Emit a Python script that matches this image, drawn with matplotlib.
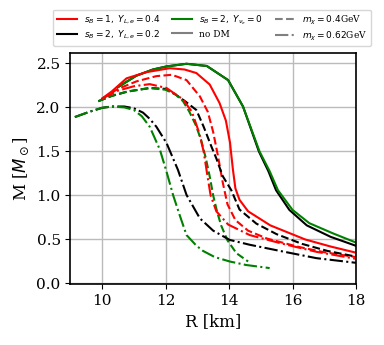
import matplotlib

matplotlib.use("Agg")
import matplotlib.pyplot as plt
from matplotlib.lines import Line2D

plt.rcParams["font.family"] = "serif"
plt.rcParams["font.serif"] = ["DejaVu Serif"]

# mass-radius curves (R in km, M in M_sun)
# no DM
r_red_nodm = [10.0, 10.3, 10.77, 11.4, 12.13, 12.6, 12.97, 13.39, 13.7, 13.9, 14.03, 14.12, 14.2, 14.33, 14.6, 15.3, 16.4, 17.2, 18.0]
m_red_nodm = [2.10, 2.18, 2.33, 2.40, 2.445, 2.43, 2.39, 2.26, 2.05, 1.85, 1.60, 1.30, 1.08, 0.95, 0.82, 0.66, 0.50, 0.42, 0.35]
r_black_nodm = [10.5, 11.08, 11.6, 12.03, 12.66, 13.3, 13.97, 14.44, 14.94, 15.24, 15.48, 15.9, 16.45, 17.2, 18.0]
m_black_nodm = [2.23, 2.36, 2.43, 2.465, 2.495, 2.47, 2.31, 2.01, 1.50, 1.275, 1.06, 0.836, 0.66, 0.53, 0.428]
r_green_nodm = [10.5, 11.08, 11.6, 12.03, 12.66, 13.3, 13.97, 14.44, 14.96, 15.28, 15.54, 16.0, 16.53, 17.27, 18.0]
m_green_nodm = [2.23, 2.36, 2.43, 2.465, 2.495, 2.47, 2.31, 2.01, 1.50, 1.275, 1.06, 0.836, 0.685, 0.57, 0.465]

# m_chi = 0.4 GeV
r_red_04 = [10.0, 10.5, 11.08, 11.71, 12.2, 12.66, 13.08, 13.33, 13.5, 13.65, 13.8, 13.95, 14.2, 14.6, 15.2, 16.2, 17.0, 18.0]
m_red_04 = [2.10, 2.21, 2.295, 2.355, 2.37, 2.31, 2.125, 1.95, 1.72, 1.45, 1.15, 0.90, 0.72, 0.60, 0.51, 0.415, 0.355, 0.30]
r_black_04 = [9.88, 10.3, 10.8, 11.5, 12.0, 12.34, 12.65, 12.97, 13.2, 13.45, 13.6, 13.8, 14.07, 14.33, 14.86, 15.5, 16.3, 17.1, 18.0]
m_black_04 = [2.07, 2.13, 2.18, 2.22, 2.21, 2.14, 2.06, 1.97, 1.78, 1.55, 1.42, 1.22, 1.06, 0.84, 0.68, 0.56, 0.45, 0.37, 0.305]
r_green_04 = [9.88, 10.3, 10.8, 11.5, 12.0, 12.3, 12.55, 12.75, 12.95, 13.12, 13.27, 13.4, 13.5, 13.62, 13.75, 13.95, 14.23, 14.6]
m_green_04 = [2.07, 2.13, 2.18, 2.22, 2.20, 2.15, 2.07, 1.95, 1.80, 1.63, 1.42, 1.20, 1.0, 0.82, 0.66, 0.49, 0.345, 0.25]

# m_chi = 0.62 GeV
r_red_062 = [10.0, 10.5, 11.0, 11.5, 12.03, 12.55, 12.83, 13.05, 13.2, 13.32, 13.42, 13.6, 13.97, 14.65, 15.7, 16.75, 18.0]
m_red_062 = [2.10, 2.19, 2.24, 2.264, 2.22, 2.09, 1.95, 1.72, 1.50, 1.22, 1.0, 0.82, 0.67, 0.55, 0.45, 0.36, 0.28]
r_black_062 = [9.14, 9.6, 10.0, 10.3, 10.7, 11.0, 11.29, 11.5, 11.71, 12.03, 12.39, 12.66, 13.08, 13.5, 14.02, 14.65, 15.7, 16.75, 18.0]
m_black_062 = [1.89, 1.95, 1.995, 2.01, 2.01, 1.99, 1.94, 1.87, 1.78, 1.595, 1.29, 1.006, 0.74, 0.60, 0.495, 0.44, 0.363, 0.288, 0.235]
r_green_062 = [9.14, 9.6, 10.0, 10.3, 10.7, 11.0, 11.25, 11.5, 11.82, 12.03, 12.24, 12.45, 12.66, 12.97, 13.18, 13.55, 14.02, 14.54, 15.28]
m_green_062 = [1.89, 1.95, 1.995, 2.01, 2.0, 1.97, 1.90, 1.78, 1.52, 1.27, 1.0, 0.77, 0.55, 0.43, 0.37, 0.30, 0.25, 0.21, 0.175]

x_ticks = [10, 12, 14, 16, 18]
y_ticks = [0.0, 0.5, 1.0, 1.5, 2.0, 2.5]

fig = plt.figure(figsize=(3.84, 3.45), dpi=100)
ax = fig.add_axes([0.1833, 0.177, 0.7437, 0.670])

lw = 1.5
ax.plot(r_black_nodm, m_black_nodm, color="black", lw=lw, ls="-")
ax.plot(r_green_nodm, m_green_nodm, color="green", lw=lw, ls="-")
ax.plot(r_red_nodm, m_red_nodm, color="red", lw=lw, ls="-")
ax.plot(r_red_04, m_red_04, color="red", lw=lw, ls="--")
ax.plot(r_black_04, m_black_04, color="black", lw=lw, ls="--")
ax.plot(r_green_04, m_green_04, color="green", lw=lw, ls="--")
ax.plot(r_red_062, m_red_062, color="red", lw=lw, ls="-.")
ax.plot(r_black_062, m_black_062, color="black", lw=lw, ls="-.")
ax.plot(r_green_062, m_green_062, color="green", lw=lw, ls="-.")

ax.set_xlim(9, 18)
ax.set_ylim(-0.005, 2.62)
ax.set_xticks(x_ticks)
ax.set_yticks(y_ticks)
ax.grid(True, color="#bbbbbb", lw=1.0)
ax.set_axisbelow(True)
ax.tick_params(labelsize=11)
for s in ax.spines.values():
    s.set_linewidth(1.2)
ax.set_xlabel("R [km]", fontsize=12)
ax.set_ylabel(r"M [$M_\odot$]", fontsize=12)

handles = [
    Line2D([], [], color="red", lw=lw),
    Line2D([], [], color="black", lw=lw),
    Line2D([], [], color="green", lw=lw),
    Line2D([], [], color="grey", lw=lw),
    Line2D([], [], color="grey", lw=lw, ls="--"),
    Line2D([], [], color="grey", lw=lw, ls="-."),
]
labels = [
    r"$s_B=1,\ Y_{L,e}=0.4$",
    r"$s_B=2,\ Y_{L,e}=0.2$",
    r"$s_B=2,\ Y_{\nu_e}=0$",
    "no DM",
    r"$m_\chi=0.4$GeV",
    r"$m_\chi=0.62$GeV",
]
fig.legend(handles, labels, ncol=3, fontsize=6.5, loc="upper center",
           bbox_to_anchor=(0.552, 0.985), columnspacing=1.3, handlelength=2.2,
           labelspacing=0.3, frameon=True, edgecolor="#cccccc")

fig.savefig("out.png", dpi=100)
